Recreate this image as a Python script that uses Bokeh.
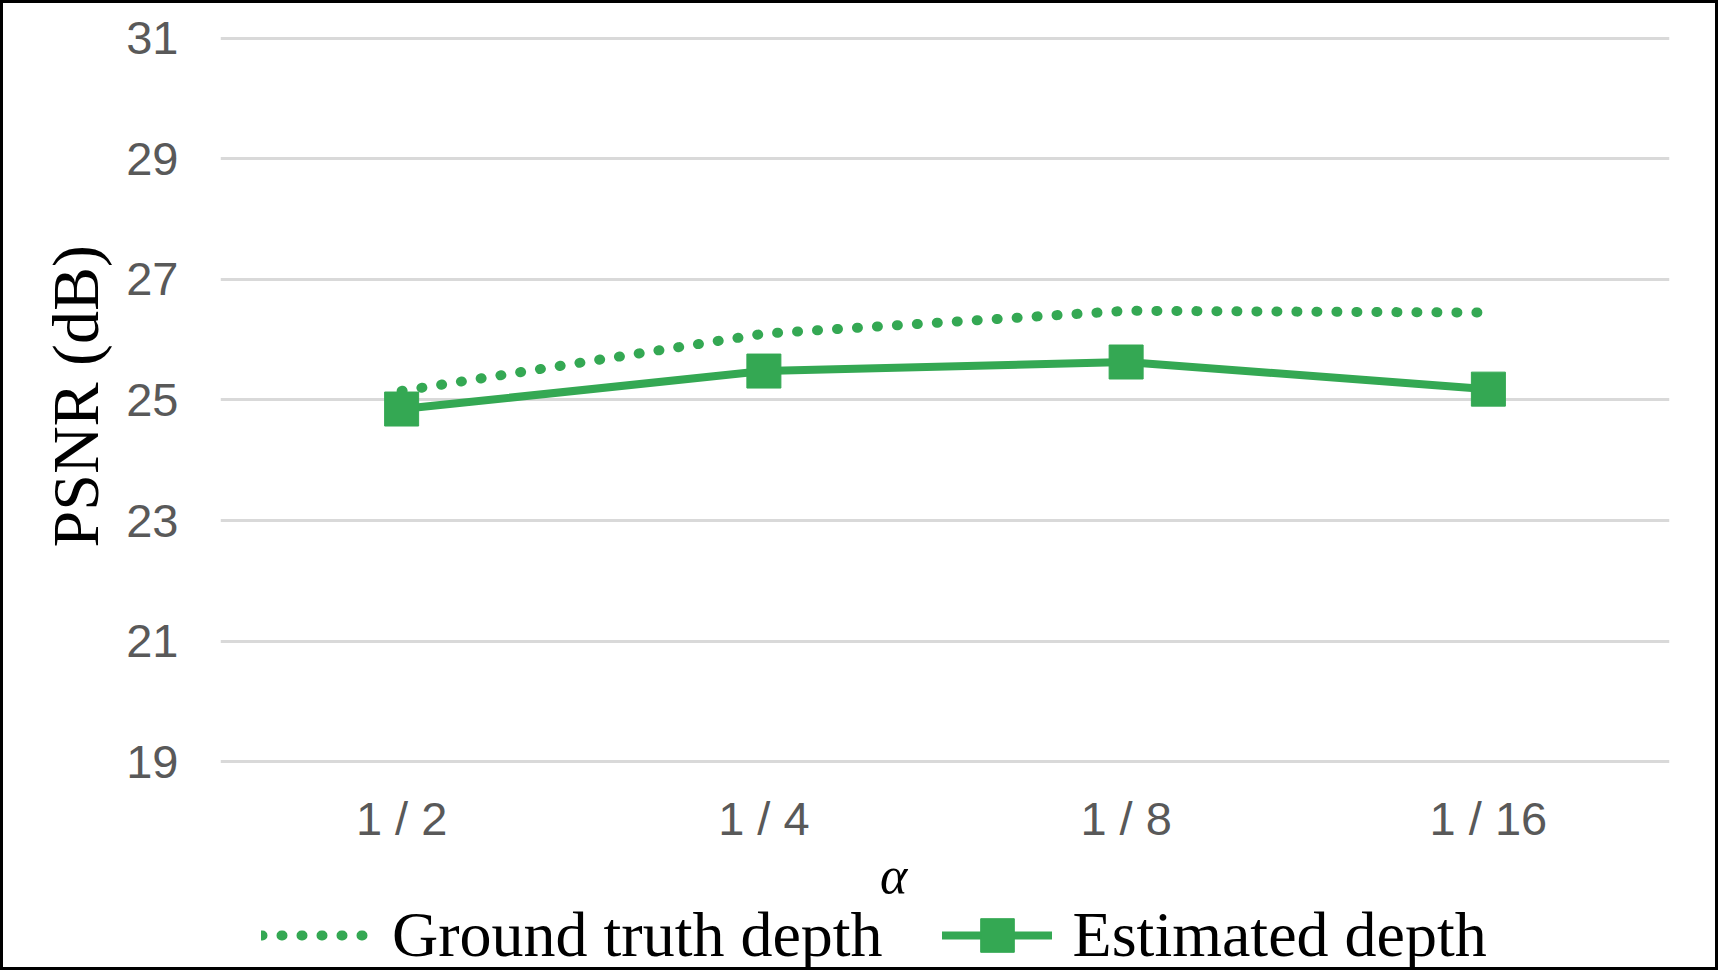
from bokeh.plotting import figure
from bokeh.models import Legend, LegendItem, Range1d, FixedTicker, Title, Label
from bokeh.embed import file_html
from bokeh.resources import INLINE

# ---- data ----
categories = ["1 / 2", "1 / 4", "1 / 8", "1 / 16"]
ground_truth = [25.15, 26.10, 26.48, 26.45]
estimated = [24.85, 25.48, 25.63, 25.18]
y_ticks = [19, 21, 23, 25, 27, 29, 31]
y_min, y_max = 19, 31

GREEN = "#34a853"
W, H = 1718, 970
FRAME_TOP = 33
PX_PER_UNIT = 60.28
y_top = y_max + 0.03
y_bottom = y_top - (H - FRAME_TOP) / PX_PER_UNIT   # frame runs to the canvas bottom

p = figure(x_range=categories, y_range=Range1d(y_bottom, y_top),
           width=W, height=H, output_backend="svg", toolbar_location=None,
           min_border_left=217, min_border_right=52,
           min_border_top=FRAME_TOP, min_border_bottom=0)
p.styles = {"border": "3px solid black"}
p.outline_line_color = None
p.background_fill_color = "white"
p.border_fill_color = "white"

# grid
p.xgrid.grid_line_color = None
p.ygrid.grid_line_color = "#d9d9d9"
p.ygrid.grid_line_width = 3

# axes
p.yaxis.ticker = FixedTicker(ticks=y_ticks)
for ax in (p.xaxis, p.yaxis):
    ax.axis_line_color = None
    ax.major_tick_line_color = None
    ax.minor_tick_line_color = None
    ax.major_label_text_font = "Liberation Sans"
    ax.major_label_text_font_size = "47px"
    ax.major_label_text_color = "#595959"
p.yaxis.major_label_standoff = 36
p.xaxis.major_label_standoff = 24
p.xaxis.fixed_location = y_min

# y-axis title
ytitle = Title(text="PSNR (dB)", align="left", offset=426, standoff=24,
               vertical_align="bottom",
               text_font="Liberation Serif", text_font_style="normal",
               text_font_size="66px", text_color="black")
p.add_layout(ytitle, "left")

# series
gt = p.line(categories, ground_truth, line_color=GREEN, line_width=10,
            line_dash="1 19", line_cap="round")
est_line = p.line(categories, estimated, line_color=GREEN, line_width=8,
                  line_cap="round", line_join="round")
est_pts = p.scatter(categories, estimated, marker="square", size=34,
                    fill_color=GREEN, line_color=GREEN)

# x-axis title (alpha)
alpha = Label(x=1.858, y=98, x_units="data", y_units="screen", text="α",
              text_font="Liberation Serif", text_font_style="italic",
              text_font_size="52px", text_color="black",
              text_align="center", text_baseline="alphabetic")
p.add_layout(alpha)

legend = Legend(items=[LegendItem(label="Ground truth depth", renderers=[gt]),
                       LegendItem(label="Estimated depth", renderers=[est_line, est_pts])],
                location=(41, -4), orientation="horizontal",
                glyph_width=110, glyph_height=84, label_standoff=21, spacing=59,
                padding=0, margin=0,
                label_text_font="Liberation Serif", label_text_font_size="64px",
                label_text_color="black",
                border_line_color=None, background_fill_alpha=0)
p.add_layout(legend)

open("out.html", "w").write(file_html(p, INLINE))
